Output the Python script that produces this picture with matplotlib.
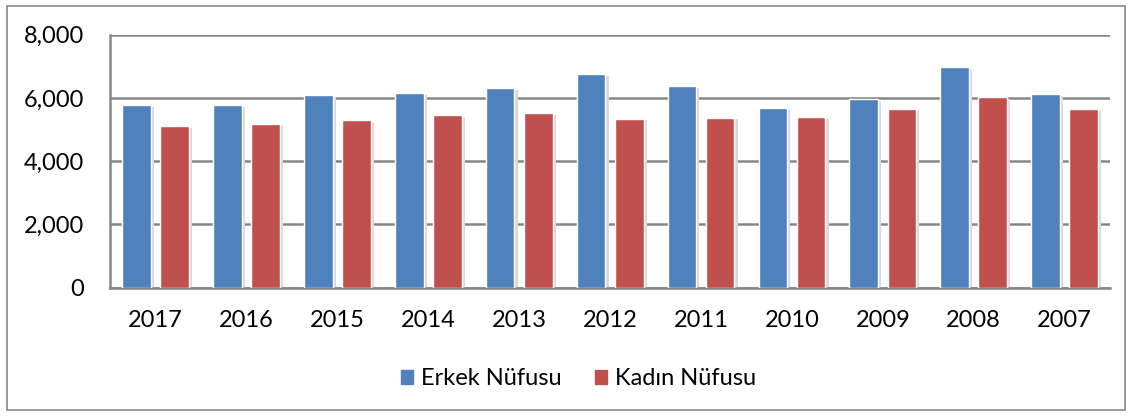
import numpy as np
import matplotlib.pyplot as plt
from matplotlib.patches import Rectangle

# veriler
yillar = ['2017', '2016', '2015', '2014', '2013', '2012', '2011', '2010', '2009', '2008', '2007']
erkek = [5780, 5770, 6080, 6150, 6320, 6760, 6380, 5670, 5960, 6970, 6120]
kadin = [5110, 5190, 5300, 5470, 5520, 5350, 5380, 5410, 5660, 6040, 5660]

mavi = '#4F81BD'
kirmizi = '#C0504D'

plt.rcParams['font.family'] = ['Lato', 'DejaVu Sans']

fig = plt.figure(figsize=(11.32, 4.16), dpi=100)
ax = fig.add_axes([0.0974, 0.3084, 0.8832, 0.6082])

x = np.arange(len(yillar))
w = 0.315
off = 0.21

# golge
for dx in (-off, off):
    vals = erkek if dx < 0 else kadin
    ax.bar(x + dx + 0.035, vals, w, bottom=-60, color='#d9d9d9', zorder=2, linewidth=0)

ax.bar(x - off, erkek, w, color=mavi, edgecolor='white', linewidth=1.0, zorder=3, label='Erkek Nüfusu')
ax.bar(x + off, kadin, w, color=kirmizi, edgecolor='white', linewidth=1.0, zorder=3, label='Kadın Nüfusu')

ax.set_xlim(-0.5, len(yillar) - 0.5)
ax.set_ylim(0, 8000)
ax.set_yticks([0, 2000, 4000, 6000, 8000])
ax.set_yticklabels(['0', '2,000', '4,000', '6,000', '8,000'])
ax.set_xticks(x)
ax.set_xticklabels(yillar)
ax.tick_params(axis='both', length=0, labelsize=17, colors='black')
ax.tick_params(axis='x', pad=16)
ax.tick_params(axis='y', pad=19)

ax.yaxis.grid(True, color='#868686', linewidth=1.8, zorder=1)
ax.set_axisbelow(True)
for s in ['top', 'right']:
    ax.spines[s].set_visible(False)
ax.spines['left'].set_color('#868686')
ax.spines['bottom'].set_color('#868686')
ax.spines['left'].set_linewidth(1.8)
ax.spines['bottom'].set_linewidth(1.8)

h1 = Rectangle((0, 0), 1, 1, color=mavi)
h2 = Rectangle((0, 0), 1, 1, color=kirmizi)
fig.legend([h1, h2], ['Erkek Nüfusu', 'Kadın Nüfusu'], loc='center', bbox_to_anchor=(0.511, 0.089),
           ncol=2, frameon=False, fontsize=17, handlelength=0.5, handleheight=0.5,
           handletextpad=0.34, columnspacing=1.44)

# cerceve
fig.patches.append(Rectangle((7 / 1132, 6 / 416), 1118 / 1132, 404 / 416, transform=fig.transFigure,
                             fill=False, edgecolor='#868686', linewidth=1.2))

fig.savefig('out.png', dpi=100)
